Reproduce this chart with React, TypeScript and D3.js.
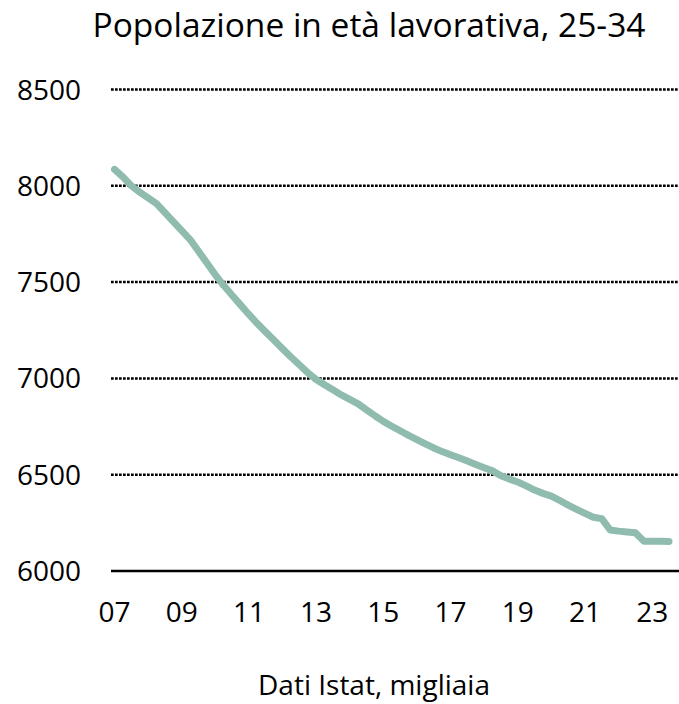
import React, { useRef, useEffect } from 'react';
import * as d3 from 'd3';

// quarterly values, 2007Q1 .. 2023Q3 (thousands)
const startYear = 2007;
const values = [
  8085, 8046, 8000, 7967, 7937, 7907, 7861, 7814, 7767, 7721,
  7660, 7599, 7538, 7482, 7432, 7382, 7332, 7285, 7241, 7198,
  7154, 7111, 7071, 7030, 6994, 6967, 6941, 6914, 6891, 6868,
  6837, 6806, 6777, 6752, 6728, 6704, 6682, 6660, 6639, 6620,
  6604, 6588, 6571, 6553, 6536, 6520, 6495, 6477, 6462, 6442,
  6420, 6403, 6389, 6366, 6342, 6320, 6299, 6279, 6272, 6213,
  6207, 6203, 6199, 6155, 6155, 6154, 6153,
];
const xTickYears = [2007, 2009, 2011, 2013, 2015, 2017, 2019, 2021, 2023];
const yTicks = [6000, 6500, 7000, 7500, 8000, 8500];

const title = 'Popolazione in età lavorativa, 25-34';
const note = 'Dati Istat, migliaia';

const W = 679;
const H = 704;
const FONT = '"Open Sans", "Noto Sans", sans-serif';

export default function App() {
  const ref = useRef<SVGSVGElement | null>(null);

  useEffect(() => {
    if (!ref.current) return;
    const svg = d3.select(ref.current);
    svg.selectAll('*').remove();

    const x = d3.scaleLinear().domain([0, values.length - 1]).range([114.5, 669]);
    const y = d3.scaleLinear().domain([6000, 8500]).range([571, 89.5]);
    const left = 111;
    const right = W;

    // title
    svg.append('text')
      .attr('x', 369).attr('y', 37)
      .attr('text-anchor', 'middle')
      .style('font-family', FONT).style('font-size', '33.5px').attr('fill', '#000')
      .text(title);

    // dotted gridlines
    svg.append('g')
      .selectAll('line')
      .data(yTicks.filter(t => t !== 6000))
      .enter().append('line')
      .attr('x1', left).attr('x2', right)
      .attr('y1', d => y(d)).attr('y2', d => y(d))
      .attr('stroke', '#000')
      .attr('stroke-width', 2.5)
      .attr('stroke-dasharray', '2.7 1.3');

    // baseline axis
    svg.append('line')
      .attr('x1', left).attr('x2', right)
      .attr('y1', y(6000)).attr('y2', y(6000))
      .attr('stroke', '#000').attr('stroke-width', 2.5);

    // y labels
    svg.append('g')
      .selectAll('text')
      .data(yTicks)
      .enter().append('text')
      .attr('x', 81).attr('y', d => y(d) + 10)
      .attr('text-anchor', 'end')
      .style('font-family', FONT).style('font-size', '28px')
      .text(d => String(d));

    // x labels
    svg.append('g')
      .selectAll('text')
      .data(xTickYears)
      .enter().append('text')
      .attr('x', d => x((d - startYear) * 4))
      .attr('y', 622)
      .attr('text-anchor', 'middle')
      .style('font-family', FONT).style('font-size', '28px')
      .text(d => String(d % 100).padStart(2, '0'));

    // series line
    const line = d3.line<number>()
      .x((_, i) => x(i))
      .y(d => y(d));

    svg.append('path')
      .datum(values)
      .attr('d', line)
      .attr('fill', 'none')
      .attr('stroke', '#8fbcaf')
      .attr('stroke-width', 7)
      .attr('stroke-linejoin', 'round')
      .attr('stroke-linecap', 'round');

    // source note
    svg.append('text')
      .attr('x', 374).attr('y', 695)
      .attr('text-anchor', 'middle')
      .style('font-family', FONT).style('font-size', '28px')
      .text(note);
  }, []);

  return (
    <div style={{ position: 'absolute', left: 0, top: 0, width: W, height: H }}>
      <svg ref={ref} width={W} height={H} style={{ display: 'block', background: '#fff' }} />
    </div>
  );
}
